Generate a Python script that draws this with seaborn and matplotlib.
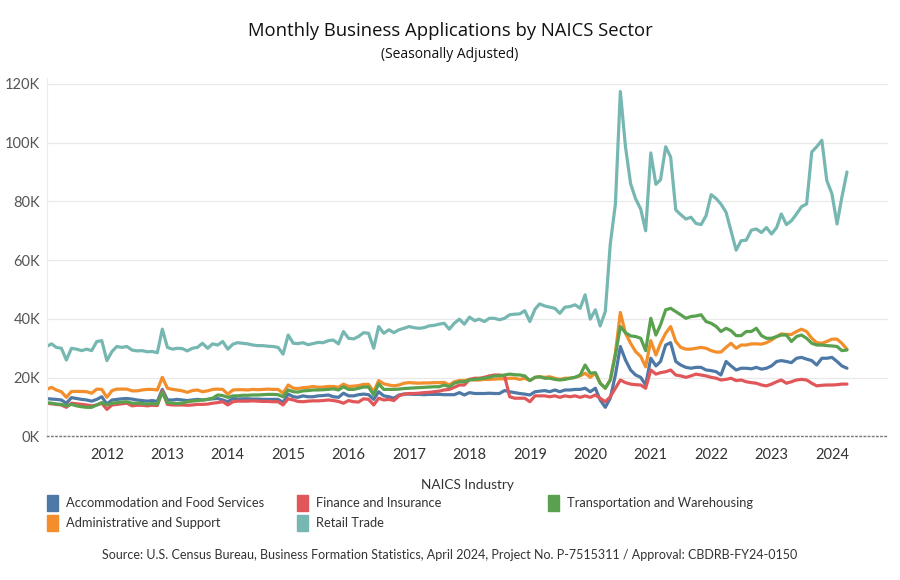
import pandas as pd
import seaborn as sns
import matplotlib.pyplot as plt
import matplotlib.dates as mdates
from matplotlib.patches import Rectangle
from matplotlib.ticker import FuncFormatter, MultipleLocator

# monthly business applications, thousands, Jan 2011 - Apr 2024
months = pd.date_range("2011-01-01", periods=160, freq="MS")

accommodation = [
    12.9, 12.7, 12.6, 12.4, 11.3, 13.2, 12.9, 12.6, 12.4, 12.0,
    12.6, 13.5, 11.0, 12.4, 12.6, 12.8, 12.9, 12.7, 12.4, 12.2,
    12.0, 12.2, 11.9, 16.0, 12.4, 12.4, 12.6, 12.4, 12.2, 12.4,
    12.6, 12.4, 12.6, 12.8, 12.9, 12.4, 11.8, 13.0, 12.7, 12.8,
    12.8, 12.7, 12.7, 12.6, 12.6, 12.6, 12.6, 11.6, 14.4, 13.5,
    13.3, 13.8, 13.5, 13.5, 13.8, 13.9, 14.1, 13.5, 13.3, 14.7,
    13.8, 13.8, 14.2, 14.4, 14.2, 12.6, 15.2, 13.8, 13.5, 13.0,
    14.1, 14.4, 14.4, 14.3, 14.3, 14.2, 14.3, 14.3, 14.3, 14.2,
    14.2, 14.2, 14.9, 14.1, 14.9, 14.6, 14.6, 14.6, 14.7, 14.6,
    14.6, 15.6, 15.2, 14.9, 14.6, 14.4, 14.1, 15.2, 15.4, 15.6,
    15.2, 15.8, 15.2, 15.8, 15.8, 16.0, 16.0, 16.4, 15.2, 16.4,
    12.4, 9.9, 13.0, 20.9, 30.6, 26.0, 22.6, 20.9, 20.1, 17.5,
    26.6, 24.0, 25.5, 31.1, 31.9, 25.5, 24.3, 23.5, 23.2, 23.5,
    23.5, 22.6, 22.4, 22.0, 20.9, 25.5, 24.0, 22.6, 23.2, 23.2,
    23.0, 23.5, 22.9, 23.2, 24.0, 25.5, 25.8, 25.5, 25.1, 26.6,
    26.9, 26.3, 25.8, 24.3, 26.6, 26.6, 26.9, 25.5, 24.0, 23.2,
]

administrative = [
    16.0, 16.7, 15.8, 15.2, 13.3, 15.3, 15.3, 15.3, 15.2, 14.7,
    16.1, 16.0, 13.3, 15.6, 16.1, 16.1, 16.1, 15.5, 15.5, 15.8,
    16.0, 16.0, 15.8, 20.1, 16.4, 16.0, 15.8, 15.5, 15.0, 15.6,
    15.8, 15.2, 15.5, 16.0, 16.1, 16.0, 14.4, 15.8, 15.9, 15.9,
    15.8, 16.0, 15.9, 16.0, 16.1, 16.0, 16.0, 14.7, 17.5, 16.4,
    16.3, 16.6, 16.7, 17.0, 16.7, 16.8, 17.0, 17.0, 16.7, 17.8,
    17.0, 17.1, 17.3, 17.7, 17.7, 15.2, 19.0, 17.9, 17.5, 17.2,
    17.5, 18.1, 18.3, 18.2, 18.1, 18.2, 18.2, 18.3, 18.3, 18.4,
    17.5, 18.6, 19.0, 19.0, 19.4, 19.2, 19.2, 19.4, 19.4, 19.5,
    19.6, 19.6, 19.8, 19.8, 19.4, 19.8, 19.0, 20.1, 20.3, 20.1,
    20.3, 19.8, 19.4, 19.8, 19.8, 20.1, 20.6, 21.5, 20.1, 21.5,
    18.1, 16.4, 19.2, 28.3, 42.2, 35.1, 31.7, 28.9, 27.2, 23.7,
    32.6, 27.7, 31.7, 35.1, 37.4, 32.3, 30.3, 29.7, 29.7, 30.0,
    30.3, 30.0, 29.2, 28.7, 28.7, 30.3, 31.7, 30.0, 31.1, 31.1,
    31.5, 31.5, 31.4, 31.9, 32.8, 34.0, 34.9, 34.7, 34.7, 35.7,
    36.5, 35.7, 33.4, 31.9, 31.7, 32.3, 33.1, 33.1, 31.7, 29.7,
]

finance = [
    11.3, 11.1, 10.9, 10.7, 9.9, 11.3, 11.1, 10.9, 10.7, 10.4,
    10.7, 11.3, 9.2, 10.7, 10.9, 11.1, 11.3, 10.4, 10.6, 10.6,
    10.4, 10.6, 10.5, 15.5, 10.9, 10.7, 10.7, 10.7, 10.6, 10.7,
    10.9, 10.9, 11.0, 11.3, 11.5, 11.8, 10.7, 11.8, 12.0, 12.0,
    12.0, 12.1, 12.0, 11.9, 11.9, 11.8, 11.8, 10.7, 12.8, 12.4,
    11.9, 11.8, 12.0, 12.1, 12.1, 12.2, 12.4, 12.2, 11.9, 11.3,
    12.2, 11.8, 11.7, 12.8, 12.6, 10.7, 13.0, 12.4, 12.6, 12.2,
    13.8, 14.4, 14.6, 14.6, 14.7, 14.9, 15.0, 15.2, 15.4, 15.8,
    16.0, 16.7, 17.5, 17.5, 19.4, 19.8, 19.8, 20.1, 20.6, 20.9,
    20.9, 20.6, 13.5, 13.0, 13.0, 13.0, 11.8, 13.8, 13.8, 13.8,
    13.5, 13.8, 13.3, 13.8, 13.5, 13.8, 13.3, 13.8, 13.3, 14.1,
    13.0, 11.8, 13.5, 16.4, 19.2, 18.3, 17.8, 17.6, 17.5, 16.4,
    22.6, 21.2, 21.7, 22.0, 22.6, 20.9, 20.6, 20.1, 20.6, 21.2,
    20.9, 20.6, 20.1, 19.8, 19.2, 19.4, 19.8, 19.0, 19.2, 18.6,
    18.3, 18.1, 17.5, 17.2, 17.8, 18.6, 19.2, 18.1, 18.6, 19.2,
    19.4, 19.2, 18.1, 17.2, 17.4, 17.5, 17.5, 17.6, 17.8, 17.8,
]

retail = [
    30.6, 31.5, 30.3, 30.0, 26.0, 30.0, 29.7, 29.2, 29.7, 29.2,
    32.3, 32.6, 25.8, 28.9, 30.6, 30.3, 30.6, 29.4, 29.1, 29.2,
    28.8, 28.9, 28.5, 36.5, 30.3, 29.7, 30.0, 29.9, 29.1, 30.0,
    30.3, 31.7, 30.0, 31.5, 31.1, 32.3, 29.7, 31.4, 31.9, 31.7,
    31.5, 31.1, 30.9, 30.9, 30.7, 30.6, 30.3, 28.0, 34.5, 31.7,
    31.6, 31.9, 31.2, 31.6, 32.0, 31.9, 32.6, 32.8, 31.5, 35.7,
    33.4, 33.2, 34.0, 35.3, 35.1, 30.0, 37.4, 35.1, 36.3, 35.3,
    36.3, 36.8, 37.4, 37.0, 36.8, 37.0, 37.6, 37.8, 38.2, 38.5,
    36.5, 38.5, 39.9, 38.2, 40.6, 39.4, 39.9, 39.1, 40.2, 40.2,
    39.7, 40.2, 41.4, 41.6, 41.7, 42.8, 39.1, 43.3, 45.1, 44.4,
    44.0, 43.6, 41.9, 44.0, 44.2, 44.8, 43.6, 48.2, 39.9, 43.1,
    37.6, 42.5, 65.4, 79.1, 117.4, 98.6, 86.0, 80.9, 77.4, 70.0,
    96.5, 85.8, 87.4, 98.6, 95.1, 77.1, 75.5, 74.0, 74.6, 72.5,
    72.1, 75.1, 82.3, 80.9, 79.1, 76.3, 70.0, 63.4, 66.6, 66.8,
    70.2, 70.6, 69.4, 71.1, 68.9, 71.1, 75.7, 72.1, 73.4, 75.7,
    78.2, 79.1, 96.8, 98.6, 100.8, 87.1, 82.6, 72.3, 81.4, 90.0,
]

transportation = [
    11.5, 11.3, 11.0, 10.9, 10.4, 10.9, 10.4, 10.1, 9.9, 9.9,
    10.7, 11.5, 10.7, 11.3, 11.5, 11.7, 11.8, 11.3, 11.3, 11.2,
    11.0, 11.2, 11.0, 15.0, 11.5, 11.3, 11.2, 11.3, 11.8, 12.0,
    12.2, 12.4, 12.6, 13.0, 14.1, 13.9, 13.3, 13.8, 13.8, 14.0,
    14.0, 14.1, 14.1, 14.2, 14.3, 14.3, 14.2, 13.5, 15.8, 15.2,
    15.1, 15.5, 15.6, 15.8, 15.8, 15.9, 16.0, 16.2, 15.8, 16.9,
    16.0, 16.0, 16.4, 16.8, 16.8, 14.1, 17.9, 16.0, 16.0, 16.0,
    16.1, 16.3, 16.4, 16.5, 16.6, 16.7, 16.8, 16.9, 16.9, 17.5,
    16.9, 18.1, 18.6, 18.6, 19.2, 19.4, 19.6, 19.8, 20.1, 20.6,
    20.6, 20.9, 21.2, 21.0, 20.9, 20.6, 19.0, 20.1, 20.3, 19.8,
    19.8, 19.4, 19.2, 19.4, 19.8, 20.1, 20.9, 24.3, 21.5, 21.7,
    18.1, 16.4, 19.2, 27.7, 37.4, 35.3, 34.2, 34.0, 33.4, 29.2,
    40.2, 34.5, 38.0, 43.1, 43.6, 42.5, 41.4, 40.2, 40.8, 41.0,
    41.4, 39.1, 38.5, 37.4, 35.7, 36.8, 36.0, 34.3, 34.3, 35.7,
    35.7, 36.8, 34.3, 33.4, 33.4, 34.0, 34.5, 34.5, 32.3, 34.0,
    34.5, 33.4, 31.7, 31.1, 31.1, 30.9, 30.8, 30.6, 29.2, 29.4,
]

industries = [
    "Accommodation and Food Services",
    "Administrative and Support",
    "Finance and Insurance",
    "Retail Trade",
    "Transportation and Warehousing",
]
colors = ["#4e79a7", "#f28e2b", "#e15759", "#76b7b2", "#59a14f"]

wide = pd.DataFrame({
    "Month": months,
    industries[0]: accommodation,
    industries[1]: administrative,
    industries[2]: finance,
    industries[3]: retail,
    industries[4]: transportation,
})
df = wide.melt(id_vars="Month", var_name="Industry", value_name="Applications")

sns.set_style("white")
plt.rcParams["font.family"] = ["Lato", "DejaVu Sans"]

W, H = 900, 580
fig = plt.figure(figsize=(9, 5.8), dpi=100)
ax = fig.add_axes([47 / W, 1 - 436.4 / H, (888 - 47) / W, (436.4 - 78) / H])

sns.lineplot(data=df, x="Month", y="Applications", hue="Industry",
             hue_order=industries, palette=dict(zip(industries, colors)),
             linewidth=2.3, legend=False, ax=ax)

ax.set_xlim(pd.Timestamp("2011-01-04"), pd.Timestamp("2024-12-05"))
ax.set_ylim(0, 122)
ax.set_xlabel("")
ax.set_ylabel("")

ax.yaxis.set_major_locator(MultipleLocator(20))
ax.yaxis.set_major_formatter(FuncFormatter(lambda v, p: f"{int(v)}K"))
ax.grid(axis="y", color="#e9e9e9", linewidth=0.9)
ax.grid(axis="x", visible=False)
ax.tick_params(axis="y", length=0, pad=5, labelsize=10.5, labelcolor="#555555")

ax.xaxis.set_major_locator(mdates.YearLocator(1))
ax.xaxis.set_major_formatter(mdates.DateFormatter("%Y"))
ax.tick_params(axis="x", length=4, width=1, color="#555555", pad=4,
               labelsize=10.5, labelcolor="#333333", direction="out")

for side in ["top", "right"]:
    ax.spines[side].set_visible(False)
ax.spines["left"].set_color("#ececec")
ax.spines["bottom"].set_color("#777777")
ax.spines["bottom"].set_linestyle((0, (1, 2)))
ax.spines["bottom"].set_linewidth(1)

fig.canvas.draw()
ylabels = ax.get_yticklabels()
ylabels[0].set_verticalalignment("bottom")

fig.text(0.5, 1 - 31 / H, "Monthly Business Applications by NAICS Sector",
         ha="center", va="center", fontsize=13.3, color="#111111",
         family=["Open Sans", "DejaVu Sans"])
fig.text(0.5, 1 - 54 / H, "(Seasonally Adjusted)", ha="center", va="center",
         fontsize=10, color="#111111", family=["Open Sans", "DejaVu Sans"])

# legend
fig.text(467 / W, 1 - 485 / H, "NAICS Industry", ha="center", va="center",
         fontsize=9.8, color="#333333")
legend_pos = [(47, 503), (47, 523), (297, 503), (297, 523), (548, 503)]
for name, col, (lx, ly) in zip(industries, colors, legend_pos):
    fig.patches.append(Rectangle((lx / W, 1 - (ly + 8) / H), 11 / W, 16 / H,
                                 transform=fig.transFigure, color=col))
    fig.text((lx + 19) / W, 1 - ly / H, name, ha="left", va="center",
             fontsize=9.3, color="#333333")

fig.text(450 / W, 1 - 555 / H,
         "Source: U.S. Census Bureau, Business Formation Statistics, April 2024, "
         "Project No. P-7515311 / Approval: CBDRB-FY24-0150",
         ha="center", va="center", fontsize=9.0, color="#333333")

fig.savefig("out.png", dpi=100)
